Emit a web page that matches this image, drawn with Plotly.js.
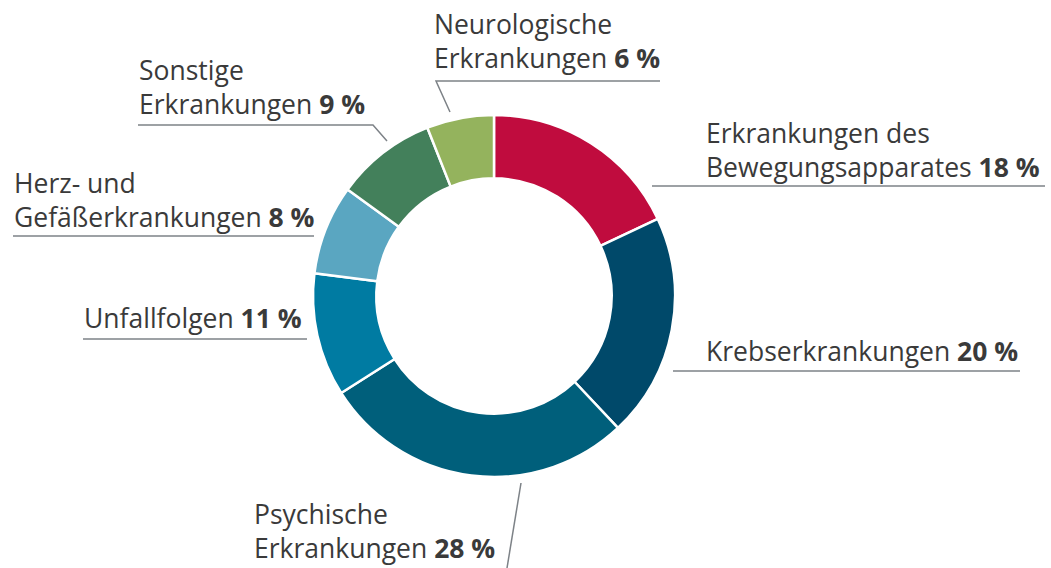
<!DOCTYPE html>
<html>
<head>
<meta charset="utf-8">
<script src="https://cdn.plot.ly/plotly-3.0.1.min.js"></script>
<style>html,body{margin:0;padding:0;background:#fff;}#chart{width:1051px;height:568px;}</style>
</head>
<body>
<div id="chart"></div>
<script>
// ---- data ----
const categories = [
  "Erkrankungen des Bewegungsapparates",
  "Krebserkrankungen",
  "Psychische Erkrankungen",
  "Unfallfolgen",
  "Herz- und Gefäßerkrankungen",
  "Sonstige Erkrankungen",
  "Neurologische Erkrankungen"
];
const values = [18, 20, 28, 11, 8, 9, 6];
const labelLine1 = ["Erkrankungen des", "", "Psychische", "", "Herz- und", "Sonstige", "Neurologische"];
const labelLine2 = ["Bewegungsapparates", "Krebserkrankungen", "Erkrankungen", "Unfallfolgen", "Gefäßerkrankungen", "Erkrankungen", "Erkrankungen"];
const colors = ["#C00C3E", "#00496A", "#005F7B", "#007BA2", "#5AA6C1", "#43805B", "#94B35D"];

// ---- layout helpers (pixel -> paper) ----
const W = 1051, H = 568;
const px = x => x / W;
const py = y => 1 - y / H;

// label anchor positions (left x, middle y of the whole label block)
const labelPos = [
  {x: 704, y: 149.5},
  {x: 704, y: 351},
  {x: 252, y: 531},
  {x: 82,  y: 318},
  {x: 12,  y: 199.5},
  {x: 137, y: 87},
  {x: 432, y: 40.5}
];
// leader lines as pixel polylines
const leaders = [
  [[652, 186], [1045, 186]],
  [[673, 371], [1020, 371]],
  [[521, 483], [507, 568]],
  [[83, 339], [307, 339]],
  [[13, 236], [314, 236]],
  [[138, 125], [373, 125], [387, 141]],
  [[660, 81], [436, 81], [450, 112]]
];

const fontFam = "'Open Sans', 'Noto Sans', sans-serif";
const fontSize = 26.5;
const annotations = values.map((v, i) => {
  const p = labelPos[i];
  const second = labelLine2[i] + ' <b>' + v + ' %</b>';
  return {
    xref: 'paper', yref: 'paper', x: px(p.x), y: py(p.y),
    xanchor: 'left', yanchor: 'middle', align: 'left', showarrow: false,
    text: labelLine1[i] ? labelLine1[i] + '<br>' + second : second,
    font: {family: fontFam, size: fontSize, color: '#3a3a3a'}
  };
});

const shapes = leaders.map(pts => ({
  type: 'path', xref: 'paper', yref: 'paper',
  path: pts.map((pt, k) => (k ? 'L' : 'M') + px(pt[0]) + ',' + py(pt[1])).join(' '),
  line: {color: '#7d8287', width: 1.5}
}));

const cx = 494, cy = 296, R = 181;
const trace = {
  type: 'pie',
  labels: categories,
  values: values,
  sort: false,
  direction: 'clockwise',
  rotation: 0,
  hole: 0.65,
  textinfo: 'none',
  hoverinfo: 'label+value',
  marker: {colors: colors, line: {color: '#ffffff', width: 2.5}},
  domain: {x: [px(cx - R), px(cx + R)], y: [py(cy + R), py(cy - R)]},
  showlegend: false
};

const layout = {
  width: W, height: H,
  margin: {l: 0, r: 0, t: 0, b: 0},
  paper_bgcolor: '#ffffff',
  plot_bgcolor: '#ffffff',
  showlegend: false,
  annotations: annotations,
  shapes: shapes,
  font: {family: fontFam}
};

Plotly.newPlot('chart', [trace], layout, {displayModeBar: false, staticPlot: true});
</script>
</body>
</html>
